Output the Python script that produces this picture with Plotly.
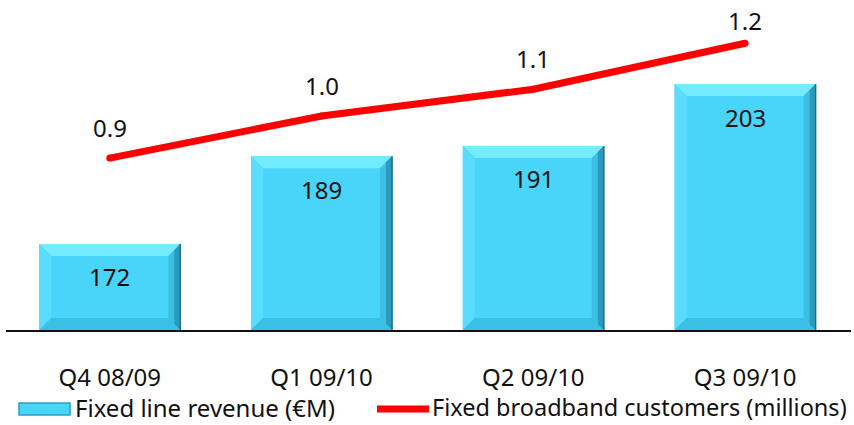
import plotly.graph_objects as go

# Quarterly fixed line figures
quarters = ["Q4 08/09", "Q1 09/10", "Q2 09/10", "Q3 09/10"]
revenue = [172, 189, 191, 203]              # Fixed line revenue (€M)
broadband = [0.88, 0.99, 1.06, 1.18]        # Fixed broadband customers (millions)

W, H = 854, 425
ML, MR, MT, MB = 6, 3, 0, 95
plot_w = W - ML - MR
plot_h = H - MT - MB

x_idx = list(range(len(quarters)))
x_range = [-0.49, 3.5]
y_range = [155.3, 219.3]
y2_range = [0.431, 1.293]

FONT = "Noto Sans"
FACE = "#49D4F9"
TOP = "#74EBFF"
LEFT = "#58DCFF"
RIGHT_IN = "#3DBFE4"
RIGHT_OUT = "#2A9ABD"
BOTTOM = "#3AC0E4"

fig = go.Figure()

bar_w = 0.666
fig.add_trace(go.Bar(
    x=x_idx, y=revenue, width=bar_w, marker=dict(color=FACE, line=dict(width=0)),
    name="Fixed line revenue (€M)", showlegend=False, hoverinfo="skip",
))

fig.add_trace(go.Scatter(
    x=x_idx, y=broadband, yaxis="y2", mode="lines+markers",
    line=dict(color="#FF0000", width=7), marker=dict(color="#FF0000", size=7),
    name="Fixed broadband customers (millions)", showlegend=False, hoverinfo="skip",
))

# Bevelled edges of each bar, derived from the bar values
px_x = (x_range[1] - x_range[0]) / plot_w
px_y = (y_range[1] - y_range[0]) / plot_h
bx, by = 12 * px_x, 12 * px_y
base = y_range[0]
shapes = []
for i, v in zip(x_idx, revenue):
    x0, x1 = i - bar_w / 2, i + bar_w / 2
    hx, hy = bx / 2, by / 2
    panels = [
        (TOP, [(x0, v), (x1, v), (x1 - bx, v - by), (x0 + bx, v - by)]),
        (LEFT, [(x0, v), (x0 + bx, v - by), (x0 + bx, base + by), (x0, base)]),
        (BOTTOM, [(x0, base), (x0 + bx, base + by), (x1 - bx, base + by), (x1, base)]),
        (RIGHT_IN, [(x1, v), (x1 - bx, v - by), (x1 - bx, base + by), (x1, base)]),
        (RIGHT_OUT, [(x1, v), (x1 - hx, v - hy), (x1 - hx, base + hy), (x1, base)]),
    ]
    for col, pts in panels:
        path = "M" + " L".join(f"{px},{py}" for px, py in pts) + " Z"
        shapes.append(dict(type="path", path=path, xref="x", yref="y",
                           fillcolor=col, line=dict(width=0), layer="above"))
    # thin dark outline on the right side
    shapes.append(dict(type="line", xref="x", yref="y", x0=x1, x1=x1, y0=base, y1=v,
                       line=dict(color="#1D6F8A", width=1.5), layer="above"))

annotations = []
for i, v in zip(x_idx, revenue):
    annotations.append(dict(x=i, y=v, xref="x", yref="y", text=f"{v:.0f}",
                            showarrow=False, yshift=-33, yanchor="middle",
                            font=dict(family=FONT, size=24, color="#111111")))
for i, v in zip(x_idx, broadband):
    # keep the value label inside the page near the top edge
    point_px = plot_h * (y2_range[1] - v) / (y2_range[1] - y2_range[0])
    shift = min(31, point_px - 20)
    annotations.append(dict(x=i, y=v, xref="x", yref="y2", text=f"{v:.1f}",
                            showarrow=False, yshift=shift, yanchor="middle",
                            font=dict(family=FONT, size=24, color="#111111")))


# Legend drawn below the axis
def px2paper(px, py):
    return (px - ML) / plot_w, (H - MB - py) / plot_h


sx0, sy0 = px2paper(19, 403)
sx1, sy1 = px2paper(70, 415)
shapes.append(dict(type="rect", xref="paper", yref="paper", x0=sx0, x1=sx1, y0=sy1, y1=sy0,
                   fillcolor=FACE, line=dict(color="#2A9EC2", width=1.5)))
lx0, ly = px2paper(377, 409)
lx1, _ = px2paper(429, 409)
shapes.append(dict(type="line", xref="paper", yref="paper", x0=lx0, x1=lx1, y0=ly, y1=ly,
                   line=dict(color="#FF0000", width=7)))
tx, ty = px2paper(74, 407)
annotations.append(dict(x=tx, y=ty, xref="paper", yref="paper", text="Fixed line revenue (€M)",
                        showarrow=False, xanchor="left", yanchor="middle", borderpad=0,
                        font=dict(family=FONT, size=24, color="#111111")))
tx, ty = px2paper(431, 407)
annotations.append(dict(x=tx, y=ty, xref="paper", yref="paper",
                        text="Fixed broadband customers (millions)",
                        showarrow=False, xanchor="left", yanchor="middle", borderpad=0,
                        font=dict(family=FONT, size=23.5, color="#111111")))

fig.update_layout(
    width=W, height=H,
    margin=dict(l=ML, r=MR, t=MT, b=MB),
    paper_bgcolor="white", plot_bgcolor="white",
    showlegend=False,
    shapes=shapes, annotations=annotations,
    xaxis=dict(range=x_range, tickvals=x_idx, ticktext=quarters,
               showgrid=False, zeroline=False, showline=True, linecolor="#111111", linewidth=2,
               ticks="outside", ticklen=25, tickcolor="rgba(0,0,0,0)",
               tickfont=dict(family=FONT, size=24, color="#111111")),
    yaxis=dict(range=y_range, visible=False, showgrid=False),
    yaxis2=dict(range=y2_range, overlaying="y", visible=False, showgrid=False),
)

fig.write_html("out.html")
